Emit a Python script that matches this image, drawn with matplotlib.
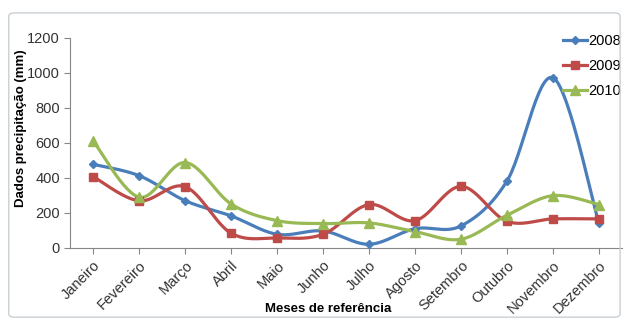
import numpy as np
import matplotlib.pyplot as plt
from matplotlib.patches import FancyBboxPatch

plt.rcParams['font.family'] = ['Liberation Sans', 'DejaVu Sans']

meses = ["Janeiro", "Fevereiro", "Março", "Abril", "Maio", "Junho", "Julho",
         "Agosto", "Setembro", "Outubro", "Novembro", "Dezembro"]
chuva_2008 = [478, 413, 270, 183, 78, 97, 21, 110, 126, 383, 973, 141]
chuva_2009 = [408, 269, 350, 84, 57, 78, 248, 156, 352, 152, 166, 166]
chuva_2010 = [611, 290, 488, 251, 156, 139, 143, 93, 50, 187, 299, 248]


def smooth(x, y, n=30):
    # bezier curve like the excel "smoothed line"
    x = np.asarray(x, float)
    y = np.asarray(y, float)
    px = np.concatenate([[x[0]], x, [x[-1]]])
    py = np.concatenate([[y[0]], y, [y[-1]]])
    xs, ys = [], []
    t = np.linspace(0, 1, n)
    for i in range(1, len(px) - 2):
        p0 = np.array([px[i], py[i]])
        p3 = np.array([px[i + 1], py[i + 1]])
        p1 = p0 + (np.array([px[i + 1], py[i + 1]]) - np.array([px[i - 1], py[i - 1]])) / 6
        p2 = p3 - (np.array([px[i + 2], py[i + 2]]) - np.array([px[i], py[i]])) / 6
        pts = ((1 - t) ** 3)[:, None] * p0 + (3 * (1 - t) ** 2 * t)[:, None] * p1 \
            + (3 * (1 - t) * t ** 2)[:, None] * p2 + (t ** 3)[:, None] * p3
        xs.extend(pts[:, 0])
        ys.extend(pts[:, 1])
    return xs, ys


fig = plt.figure(figsize=(6.27, 3.22), dpi=100)
ax = fig.add_axes([0.112, 0.230, 0.880, 0.652])

fig.patches.append(FancyBboxPatch((0.014, 0.015), 0.975, 0.945,
                                  boxstyle="round,pad=0,rounding_size=0.01",
                                  transform=fig.transFigure, fill=False,
                                  edgecolor="#c8d0d4", linewidth=1.0))

x = np.arange(len(meses))
series = [(chuva_2008, "2008", "#4A7EBB", "D", 4),
          (chuva_2009, "2009", "#BE4B48", "s", 6),
          (chuva_2010, "2010", "#98B954", "^", 6.5)]
for vals, nome, cor, mk, ms in series:
    sx, sy = smooth(x, vals)
    ax.plot(sx, sy, color=cor, linewidth=2.3, zorder=2)
    ax.plot(x, vals, linestyle="none", marker=mk, markersize=ms, color=cor, zorder=3)
    ax.plot([], [], color=cor, linewidth=2.3, marker=mk, markersize=ms, label=nome)

ax.set_xlim(-0.5, 11.5)
ax.set_ylim(0, 1200)
ax.set_yticks(range(0, 1201, 200))
ax.set_xticks(x)
ax.set_xticklabels(meses, rotation=45, ha="right", rotation_mode="anchor", fontsize=10.5)
ax.tick_params(axis="y", labelsize=10.5, length=4, color="#868686", colors="#333333")
ax.tick_params(axis="x", length=4, color="#868686", labelcolor="#333333")
for s in ["top", "right"]:
    ax.spines[s].set_visible(False)
for s in ["left", "bottom"]:
    ax.spines[s].set_color("#868686")

ax.set_ylabel("Dados precipitação (mm)", fontsize=9.5, fontweight="bold")
ax.yaxis.set_label_coords(-0.078, 0.571)
ax.set_xlabel("Meses de referência", fontsize=9.5, fontweight="bold")
ax.xaxis.set_label_coords(0.467, -0.26)

ax.legend(loc="upper right", bbox_to_anchor=(1.022, 1.08), frameon=False, fontsize=10.5,
          handlelength=1.6, handletextpad=0.1, labelspacing=0.75)

fig.savefig("out.png", dpi=100)
